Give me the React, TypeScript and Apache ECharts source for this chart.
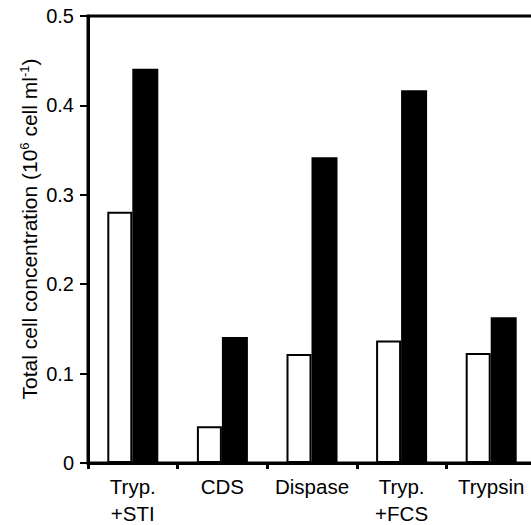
import React, { useEffect, useRef } from "react";
import * as echarts from "echarts";

const categories = ["Tryp.\n+STI", "CDS", "Dispase", "Tryp.\n+FCS", "Trypsin"];
const whiteValues = [0.281, 0.041, 0.122, 0.137, 0.123];
const blackValues = [0.441, 0.141, 0.342, 0.417, 0.163];
const yMin = 0;
const yMax = 0.5;
const yInterval = 0.1;

const FONT = "Liberation Sans, Arial, Helvetica, sans-serif";

export default function App() {
  const ref = useRef<HTMLDivElement>(null);
  useEffect(() => {
    if (!ref.current) return;
    const chart = echarts.init(ref.current, null, { renderer: "svg" });
    chart.setOption({
      animation: false,
      backgroundColor: "#ffffff",
      grid: {
        left: 88,
        top: 16,
        width: 448,
        height: 447,
        outerBoundsMode: "none",
        containLabel: false,
        show: true,
        borderColor: "#000",
        borderWidth: 3,
        backgroundColor: "transparent",
      },
      xAxis: {
        type: "category",
        data: categories,
        boundaryGap: true,
        axisLine: { show: true, lineStyle: { color: "#000", width: 3 } },
        axisTick: { show: true, length: 6, lineStyle: { color: "#000", width: 3 } },
        axisLabel: {
          color: "#000",
          fontFamily: FONT,
          fontSize: 20.5,
          lineHeight: 27,
          margin: 10,
          interval: 0,
        },
      },
      yAxis: {
        type: "value",
        min: yMin,
        max: yMax,
        interval: yInterval,
        splitLine: { show: false },
        axisLine: { show: true, lineStyle: { color: "#000", width: 3 } },
        axisTick: { show: true, length: 8, lineStyle: { color: "#000", width: 2 } },
        axisLabel: {
          color: "#000",
          fontFamily: FONT,
          fontSize: 20,
          margin: 14,
          formatter: (v: number) => (v === 0 ? "0" : v.toFixed(1)),
        },
      },
      graphic: [
        {
          type: "text",
          x: 29,
          y: 229,
          rotation: Math.PI / 2,
          style: {
            text: "Total cell concentration (10{sup|6} cell ml{sup|-1})",
            fontFamily: FONT,
            fontSize: 21,
            fill: "#000",
            align: "center",
            verticalAlign: "middle",
            rich: {
              sup: { fontSize: 13, fontFamily: FONT, fill: "#000", padding: [0, 0, 10, 0] },
            },
          },
        },
      ],
      series: [
        {
          type: "bar",
          data: whiteValues,
          barWidth: 25,
          barGap: "0%",
          itemStyle: { color: "#fff", borderColor: "#000", borderWidth: 2 },
        },
        {
          type: "bar",
          data: blackValues,
          barWidth: 26,
          barGap: "0%",
          itemStyle: { color: "#000" },
        },
      ],
    });
    return () => chart.dispose();
  }, []);
  return (
    <div
      ref={ref}
      style={{ position: "absolute", left: 0, top: 0, width: 531, height: 525 }}
    />
  );
}
